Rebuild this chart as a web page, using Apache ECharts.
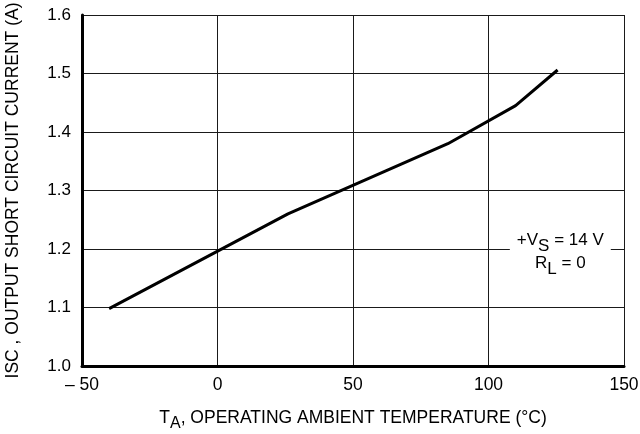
<!DOCTYPE html>
<html>
<head>
<meta charset="utf-8">
<script src="https://cdn.jsdelivr.net/npm/echarts@6/dist/echarts.min.js"></script>
<style>
  html, body { margin: 0; padding: 0; background: #fff; }
  #chart { width: 640px; height: 434px; }
</style>
</head>
<body>
<div id="chart"></div>
<script>
// Data
var temperature = [-40, 26, 85, 110, 125.5];
var current = [1.098, 1.26, 1.38, 1.445, 1.506];
var xTicks = [-50, 0, 50, 100, 150];
var yTicks = [1.0, 1.1, 1.2, 1.3, 1.4, 1.5, 1.6];
var noteAt = [126.5, 1.19];

var FONT = 'Liberation Sans';
var chart = echarts.init(document.getElementById('chart'), null, { renderer: 'canvas' });

var pts = temperature.map(function (t, i) { return [t, current[i]]; });

chart.setOption({
  backgroundColor: '#fff',
  animation: false,
  grid: { left: 82, right: 16, top: 15, bottom: 68, containLabel: false, outerBoundsMode: 'none' },
  xAxis: {
    type: 'value',
    min: xTicks[0], max: xTicks[xTicks.length - 1], interval: 50,
    axisLine: { show: true, onZero: false, lineStyle: { color: '#000', width: 3 } },
    axisTick: { show: false },
    splitLine: { show: true, lineStyle: { color: '#1a1a1a', width: 1 } },
    axisLabel: {
      fontFamily: FONT, fontSize: 17.5, color: '#000', margin: 10,
      formatter: function (v) { return v < 0 ? '\u2013 ' + Math.abs(v) : String(v); }
    },
    name: '{n|T}{sub|A}{n|, OPERATING AMBIENT TEMPERATURE (\u00B0C)}',
    nameLocation: 'middle',
    nameGap: 43,
    nameTextStyle: {
      fontFamily: FONT, fontSize: 17.5, color: '#000',
      rich: {
        n: { fontFamily: FONT, fontSize: 17.5, color: '#000', lineHeight: 19, verticalAlign: 'top' },
        sub: { fontFamily: FONT, fontSize: 16, color: '#000', padding: [7, 0, 0, 0] }
      }
    }
  },
  yAxis: {
    type: 'value',
    min: yTicks[0], max: yTicks[yTicks.length - 1], interval: 0.1,
    axisLine: { show: true, onZero: false, lineStyle: { color: '#000', width: 3 } },
    axisTick: { show: false },
    splitLine: { show: true, lineStyle: { color: '#1a1a1a', width: 1 } },
    axisLabel: {
      fontFamily: FONT, fontSize: 17, color: '#000', margin: 11,
      formatter: function (v) { return v.toFixed(1); }
    },
    name: 'ISC , OUTPUT SHORT CIRCUIT CURRENT (A)',
    nameLocation: 'middle',
    nameGap: 60,
    nameRotate: 90,
    nameTextStyle: { fontFamily: FONT, fontSize: 17.5, color: '#000' }
  },
  series: [{
    type: 'line',
    data: pts,
    symbol: 'none',
    lineStyle: { color: '#000', width: 3 },
    markPoint: {
      symbol: 'rect',
      symbolSize: 0,
      silent: true,
      data: [{ coord: noteAt }],
      label: {
        show: true,
        position: 'inside',
        backgroundColor: '#fff',
        padding: [0, 7],
        formatter: '{n|+V}{sub|S}{n| = 14 V}\n{n|R}{sub|L}{n| = 0}',
        rich: {
          n: { fontFamily: FONT, fontSize: 17, color: '#000', lineHeight: 19, verticalAlign: 'top' },
          sub: { fontFamily: FONT, fontSize: 17, color: '#000', padding: [6, 0, 0, 0] }
        }
      }
    }
  }]
});
</script>
</body>
</html>
